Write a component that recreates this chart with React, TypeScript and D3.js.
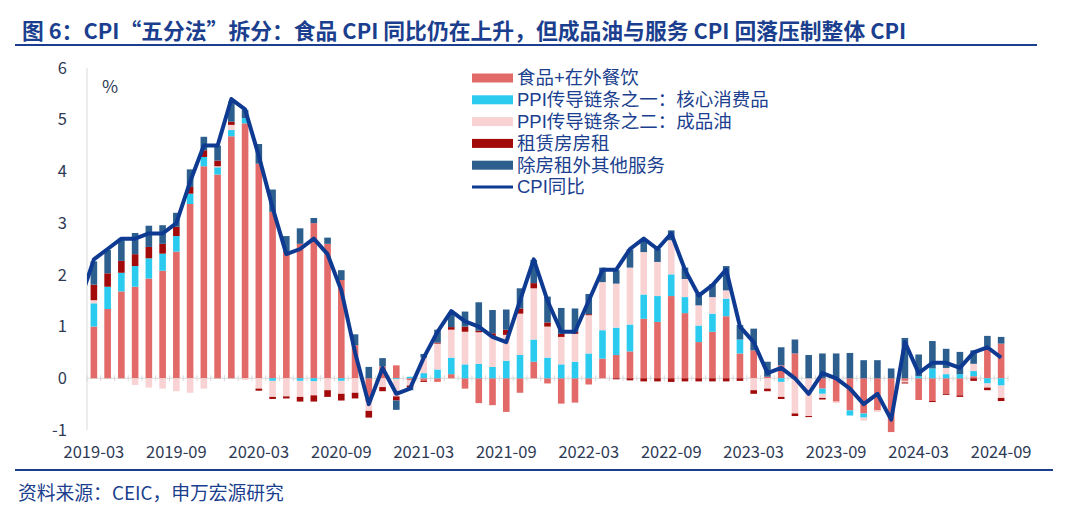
import React from 'react';
import * as d3 from 'd3';

// CPI "five-way" decomposition: stacked contributions (diverging) + CPI yoy line.

const months = d3
  .utcMonth.range(new Date(Date.UTC(2019, 2, 1)), new Date(Date.UTC(2024, 9, 1)))
  .map(d3.utcFormat('%Y-%m'));

const tickLabels = [
  '2019-03', '2019-09', '2020-03', '2020-09', '2021-03', '2021-09',
  '2022-03', '2022-09', '2023-03', '2023-09', '2024-03', '2024-09',
];
const yTicks = [-1, 0, 1, 2, 3, 4, 5, 6];

const food = [
  1.0, 1.34, 1.68, 1.77, 1.93, 2.08, 2.45, 3.37, 4.1, 3.94,
  4.68, 4.93, 4.15, 3.22, 2.45, 2.6, 3.0, 2.6, 1.9, 0.64,
  -0.45, 0.23, 0.25, -0.04, -0.05, -0.07, 0.08, -0.2, -0.48, -0.52,
  -0.65, -0.28, 0.32, -0.1, -0.49, -0.47, -0.12, 0.38, 0.45, 0.52,
  1.15, 1.09, 1.59, 1.26, 0.7, 0.9, 1.2, 0.48, 0.54, 0.03,
  0.25, 0.48, 0.0, -0.2, -0.45, -0.62, -0.68, -0.62, -1.04, -0.05,
  -0.42, -0.44, -0.3, -0.33, 0.04, 0.61, 0.67,
];
const core = [
  0.45, 0.43, 0.36, 0.4, 0.39, 0.33, 0.3, 0.2, 0.18, 0.14,
  0.12, 0.1, 0.0, -0.05, 0.0, -0.05, -0.06, 0.0, -0.05, 0.0,
  0.0, 0.0, -0.02, 0.03, 0.1, 0.17, 0.32, 0.27, 0.28, 0.22,
  0.34, 0.45, 0.43, 0.4, 0.27, 0.32, 0.48, 0.55, 0.53, 0.52,
  0.47, 0.5, 0.42, 0.31, 0.32, 0.35, 0.34, 0.27, 0.0, 0.0,
  -0.07, 0.0, 0.0, -0.1, 0.0, -0.1, -0.08, 0.0, 0.0, 0.0,
  0.04, 0.19, 0.08, 0.08, 0.1, -0.1, -0.14,
];
const oil = [
  0.06, 0.0, 0.0, -0.13, -0.18, -0.2, -0.25, -0.28, -0.2, 0.02,
  0.1, -0.03, -0.2, -0.31, -0.35, -0.31, -0.27, -0.23, -0.25, -0.28,
  -0.18, -0.17, -0.33, -0.1, 0.3, 0.5, 0.54, 0.63, 0.61, 0.6,
  0.5, 0.8, 0.99, 0.6, 0.53, 0.54, 0.74, 0.93, 0.85, 1.1,
  0.82, 0.66, 0.66, 0.35, 0.39, 0.32, 0.16, 0.0, -0.23, -0.2,
  -0.29, -0.68, -0.73, -0.08, -0.03, 0.0, -0.06, -0.03, 0.0, -0.03,
  0.0, 0.0, 0.12, 0.0, 0.14, -0.08, -0.24,
];
const rent = [
  0.3, 0.26, 0.23, 0.23, 0.22, 0.19, 0.18, 0.13, 0.13, 0.11,
  0.06, 0.0, -0.04, -0.04, -0.04, -0.09, -0.12, -0.13, -0.13, -0.11,
  -0.13, -0.08, -0.08, -0.03, -0.02, 0.02, 0.05, 0.1, 0.03, 0.05,
  0.1, 0.1, 0.1, 0.08, 0.06, 0.04, 0.02, 0.0, -0.02, -0.04,
  -0.06, -0.06, -0.07, -0.06, -0.06, -0.06, -0.06, -0.05, -0.07, -0.05,
  -0.04, -0.05, -0.02, -0.03, 0.0, 0.0, 0.0, 0.0, 0.0, -0.02,
  0.0, -0.02, -0.02, -0.03, -0.05, -0.05, -0.06,
];
const services = [
  0.45, 0.45, 0.4, 0.41, 0.41, 0.36, 0.27, 0.34, 0.26, 0.29,
  0.39, 0.16, 0.38, 0.43, 0.3, 0.3, 0.1, 0.12, 0.19, 0.21,
  0.22, 0.16, -0.18, -0.06, 0.07, 0.25, 0.29, 0.29, 0.55, 0.45,
  0.39, 0.39, 0.45, 0.5, 0.5, 0.45, 0.39, 0.28, 0.26, 0.35,
  0.25, 0.25, 0.19, 0.22, 0.22, 0.25, 0.47, 0.28, 0.42, 0.29,
  0.35, 0.27, 0.45, 0.48, 0.48, 0.49, 0.35, 0.35, 0.19, 0.78,
  0.42, 0.53, 0.37, 0.43, 0.26, 0.21, 0.13,
];
const cpi = [
  2.3, 2.5, 2.7, 2.7, 2.8, 2.8, 3.0, 3.8, 4.5, 4.5,
  5.4, 5.2, 4.3, 3.3, 2.4, 2.5, 2.7, 2.4, 1.7, 0.5,
  -0.5, 0.2, -0.3, -0.2, 0.4, 0.9, 1.3, 1.1, 1.0, 0.8,
  0.7, 1.5, 2.3, 1.5, 0.9, 0.9, 1.5, 2.1, 2.1, 2.5,
  2.7, 2.5, 2.8, 2.1, 1.6, 1.8, 2.1, 1.0, 0.7, 0.1,
  0.2, 0.0, -0.3, 0.1, 0.0, -0.2, -0.5, -0.3, -0.8, 0.7,
  0.1, 0.3, 0.3, 0.2, 0.5, 0.6, 0.4,
];
const cpiPrev = 1.5; // 2019-02, the line enters from the left edge

const seriesNames = [
  '食品+在外餐饮',
  'PPI传导链条之一：核心消费品',
  'PPI传导链条之二：成品油',
  '租赁房房租',
  '除房租外其他服务',
];
const lineName = 'CPI同比';
const colors = ['#E26A68', '#2BCBF0', '#F9D3D3', '#A30A0A', '#2D5F8E'];
const lineColor = '#0E3A92';
const navy = '#1B3F8E';
const inkSoft = '#2E3A55';
const grid = '#D9D9D9';
const font = '"Noto Sans CJK SC", "Noto Sans", sans-serif';
// legend rows sit tight, so use a Latin face with a compact line box and let CJK fall back
const legendFont = '"Liberation Sans", "Noto Sans CJK SC", sans-serif';

const W = 1080;
const H = 516;
const plot = { left: 87, right: 1008, top: 68, bottom: 430 };

export default function App() {
  const x = d3.scaleBand<string>().domain(months).range([plot.left, plot.right]).paddingInner(0.52).paddingOuter(0.26);
  const step = x.step();
  const bw = x.bandwidth();
  const cx = (m: string) => (x(m) ?? 0) + bw / 2;
  const y = d3.scaleLinear().domain([-1, 6]).range([plot.bottom, plot.top]);

  const keys = ['food', 'core', 'oil', 'rent', 'services'];
  const cols = [food, core, oil, rent, services];
  const rows = months.map((m, i) => {
    const r: Record<string, number | string> = { m };
    keys.forEach((k, j) => (r[k] = cols[j][i]));
    return r;
  });
  const layers = d3
    .stack<Record<string, number | string>>()
    .keys(keys)
    .value((d, k) => d[k] as number)
    .offset(d3.stackOffsetDiverging)(rows);

  const pts: [number, number][] = [
    [cx(months[0]) - step, cpiPrev],
    ...months.map((m, i) => [cx(m), cpi[i]] as [number, number]),
  ];
  const ln = d3
    .line<[number, number]>()
    .x((d) => d[0])
    .y((d) => y(d[1]));

  const legendX = 472;
  const legendY0 = 78;
  const legendStep = 21.8;

  return (
    <svg
      width={W}
      height={H}
      viewBox={`0 0 ${W} ${H}`}
      style={{ position: 'absolute', left: 0, top: 0, background: '#fff', fontFamily: font }}
    >
      <defs>
        <clipPath id="plotClip">
          <rect x={plot.left} y={0} width={plot.right - plot.left + 20} height={H} />
        </clipPath>
      </defs>

      {/* title */}
      <text x={22} y={39} fill={navy} style={{ fontSize: 21.8, fontWeight: 700 }}>
        图 6：CPI“五分法”拆分：食品 CPI 同比仍在上升，但成品油与服务 CPI 回落压制整体 CPI
      </text>
      <line x1={15} x2={1037} y1={45} y2={45} stroke={navy} strokeWidth={2} />

      {/* y axis */}
      <line x1={plot.left} x2={plot.left} y1={plot.top} y2={plot.bottom} stroke={grid} strokeWidth={1} />
      {yTicks.map((t) => (
        <text key={t} x={67} y={y(t)} dy="0.35em" textAnchor="end" fill={inkSoft} style={{ fontSize: 16.5 }}>
          {t}
        </text>
      ))}
      <text x={102} y={93} fill={inkSoft} style={{ fontSize: 17.5 }}>
        %
      </text>

      {/* zero axis with category ticks */}
      <line x1={plot.left} x2={plot.right} y1={y(0)} y2={y(0)} stroke={grid} strokeWidth={1} />
      {d3.range(months.length + 1).map((i) => (
        <line
          key={i}
          x1={plot.left + i * step}
          x2={plot.left + i * step}
          y1={y(0) - 3}
          y2={y(0) + 3}
          stroke={grid}
          strokeWidth={1}
        />
      ))}

      {/* stacked bars */}
      {layers.map((layer, j) => (
        <g key={layer.key} fill={colors[j]}>
          {layer.map((d, i) => {
            const y0 = y(d[0]);
            const y1 = y(d[1]);
            const h = Math.abs(y0 - y1);
            if (h < 0.01) return null;
            return <rect key={i} x={x(months[i])} y={Math.min(y0, y1)} width={bw} height={h} />;
          })}
        </g>
      ))}

      {/* CPI line */}
      <path
        d={ln(pts) ?? undefined}
        fill="none"
        stroke={lineColor}
        strokeWidth={4}
        strokeLinejoin="round"
        clipPath="url(#plotClip)"
      />

      {/* x labels */}
      {tickLabels.map((t) => (
        <text key={t} x={cx(t)} y={458} textAnchor="middle" fill={inkSoft} style={{ fontSize: 16.5 }}>
          {t}
        </text>
      ))}

      {/* legend */}
      <g style={{ fontFamily: legendFont, fontSize: 18.5 }}>
        {seriesNames.map((n, j) => {
          const ly = legendY0 + j * legendStep;
          return (
            <g key={n}>
              <rect x={legendX} y={ly - 4.5} width={41} height={9} fill={colors[j]} />
              <text x={legendX + 45} y={ly} dy="0.35em" fill={navy}>
                {n}
              </text>
            </g>
          );
        })}
        <line
          x1={legendX}
          x2={legendX + 41}
          y1={legendY0 + 5 * legendStep}
          y2={legendY0 + 5 * legendStep}
          stroke={lineColor}
          strokeWidth={3}
        />
        <text x={legendX + 45} y={legendY0 + 5 * legendStep} dy="0.35em" fill={navy}>
          {lineName}
        </text>
      </g>

      {/* footer */}
      <line x1={15} x2={1053} y1={470} y2={470} stroke={navy} strokeWidth={2} />
      <text x={18} y={500} fill={navy} style={{ fontSize: 18.8 }}>
        资料来源：CEIC，申万宏源研究
      </text>
    </svg>
  );
}
